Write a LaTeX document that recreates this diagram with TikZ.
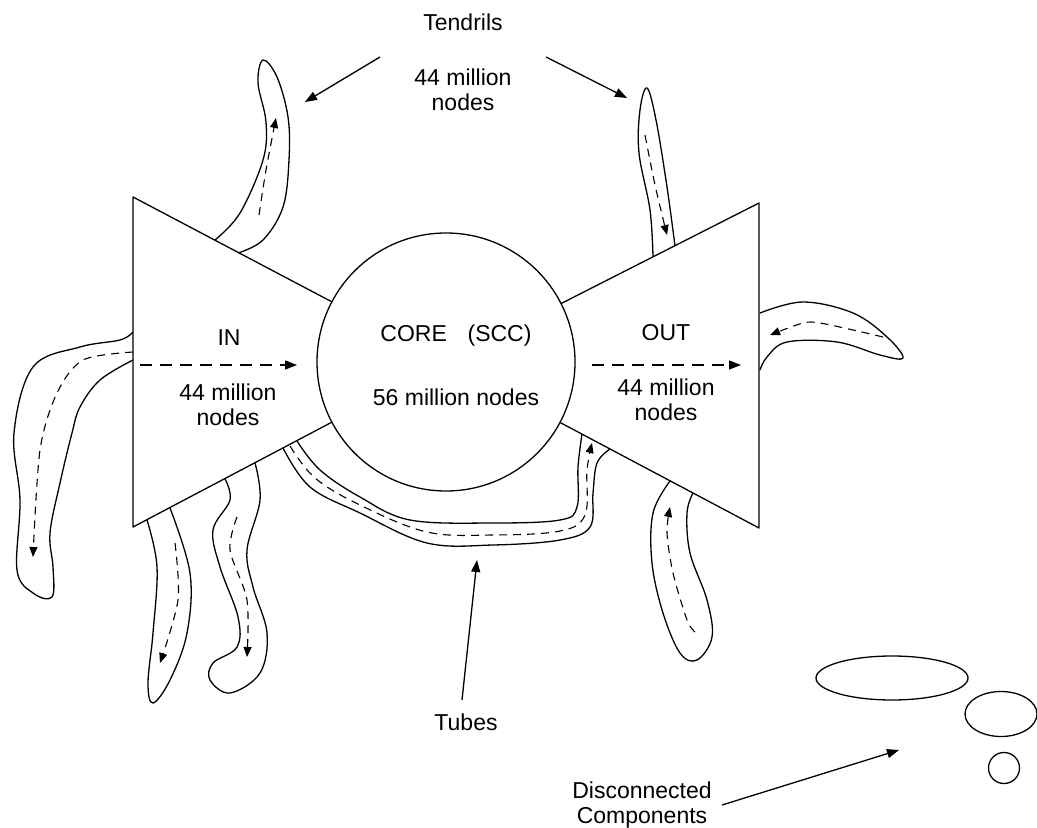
\documentclass[tikz,border=0pt]{standalone}
\usepackage{fontspec}
\setmainfont{Liberation Sans}
\usepackage{tikz}
\usetikzlibrary{arrows.meta, shapes.geometric}
\tikzstyle{lbl} = [font=\fontsize{11.5}{12.5}\selectfont, align=center, inner sep=0pt]
\tikzstyle{arrow} = [-{Triangle[length=6pt,width=4.5pt]}, line width=0.65pt]
\tikzstyle{flow} = [-{Triangle[length=6pt,width=4.5pt]}, line width=0.65pt,
dash pattern=on 6pt off 4pt]
\tikzstyle{tendril} = [line width=0.65pt]
\tikzstyle{tendrilflow} = [-{Triangle[length=5pt,width=4pt]}, line width=0.55pt,
dash pattern=on 4pt off 3pt]
\tikzstyle{component} = [ellipse, draw, line width=0.65pt, inner sep=0pt]

\begin{document}
\begin{tikzpicture}[x=0.5pt, y=-0.5pt, line join=round]
    \useasboundingbox (0,0) rectangle (1037,828);

    % bow tie
    \coordinate (intop) at (133,197);
    \coordinate (inbot) at (133,527);
    \coordinate (outtop) at (759,203);
    \coordinate (outbot) at (759,528);
    \coordinate (mid) at (446,362);
    \draw[tendril] (intop) -- (mid) -- (inbot) -- cycle;
    \draw[tendril] (outtop) -- (mid) -- (outbot) -- cycle;
    \node (core) [circle, draw, fill=white, line width=0.65pt, minimum size=129pt,
    inner sep=0pt] at (mid) {};

    % tendrils
    \draw[tendril] plot[smooth, tension=0.6] coordinates {(215,240) (240,213)
    (263,160) (266,122) (258,83) (263,60) (277,77) (288,117) (289,160) (283,207)
    (263,240) (238,253)};
    \draw[tendrilflow] plot[smooth] coordinates {(259,215) (266,170) (276,118)};

    \draw[tendril] plot[smooth, tension=0.6] coordinates {(653,257) (650,210)
    (639,153) (640,110) (647,88) (656,120) (667,187) (675,246)};
    \draw[tendrilflow] plot[smooth] coordinates {(645,135) (655,185) (667,235)};

    \draw[tendril] plot[smooth, tension=0.6] coordinates {(133,332) (120,340)
    (80,347) (33,367) (14,433) (20,500) (17,570) (33,593) (52,597) (53,567)
    (50,533) (60,483) (72,433) (80,407) (100,380) (133,360)};
    \draw[tendrilflow] plot[smooth] coordinates {(133,352) (83,360) (57,393)
    (40,450) (33,557)};

    \draw[tendril] plot[smooth, tension=0.6] coordinates {(147,520) (157,567)
    (153,633) (148,683) (153,703) (170,680) (187,633) (190,573) (170,508)};
    \draw[tendrilflow] plot[smooth] coordinates {(175,543) (178,600) (160,663)};

    \draw[tendril] plot[smooth, tension=0.6] coordinates {(225,479) (230,500)
    (213,530) (220,567) (238,617) (237,647) (213,663) (210,680) (230,693)
    (260,673) (267,633) (253,587) (247,550) (260,500) (255,463)};
    \draw[tendrilflow] plot[smooth] coordinates {(237,517) (230,550) (247,600)
    (247,657)};

    \draw[tendril] plot[smooth, tension=0.6] coordinates {(760,313) (803,302)
    (853,313) (887,337) (903,358) (880,355) (837,342) (787,342) (767,357)
    (760,370)};
    \draw[tendrilflow] plot[smooth] coordinates {(883,337) (853,330) (820,323)
    (803,323) (770,335)};

    \draw[tendril] plot[smooth, tension=0.6] coordinates {(670,481) (653,513)
    (652,563) (663,613) (680,653) (697,660) (712,637) (707,600) (690,553)
    (687,513) (693,493)};
    \draw[tendrilflow] plot[smooth] coordinates {(695,632) (687,620) (673,573)
    (667,533) (670,507)};

    % tube
    \draw[tendril] plot[smooth, tension=0.6] coordinates {(283,448) (310,487)
    (360,513) (427,543) (493,545) (560,540) (590,527) (593,493) (597,463)
    (610,449)};
    \draw[tendril] plot[smooth, tension=0.6] coordinates {(297,441) (320,470)
    (360,497) (410,520) (493,523) (560,520) (577,507) (578,467) (582,434)};
    \draw[tendrilflow] plot[smooth, tension=0.6] coordinates {(290,446) (315,478)
    (360,505) (427,532) (493,535) (560,531) (585,515) (587,470) (592,443)};

    % labels
    \node (tendrils) [lbl] at (463,22) {Tendrils};
    \node (tendrilsize) [lbl] at (463,90) {44 million\\nodes};
    \node (in) [lbl] at (229,338) {IN};
    \node (insize) [lbl] at (228,405) {44 million\\nodes};
    \node (corename) [lbl] at (456,336) {CORE\hspace{0.9em}(SCC)};
    \node (coresize) [lbl] at (456,397) {56 million nodes};
    \node (out) [lbl] at (666,333) {OUT};
    \node (outsize) [lbl] at (666,400) {44 million\\nodes};
    \node (tubes) [lbl] at (466,722) {Tubes};
    \node (disc) [lbl] at (642,805) {Disconnected\\Components};

    % disconnected components
    \node (comp1) [component, minimum width=76pt, minimum height=22pt] at (892,678) {};
    \node (comp2) [component, minimum width=36pt, minimum height=22.5pt] at (1001,714) {};
    \node (comp3) [component, minimum width=15.5pt, minimum height=15.5pt] at (1004,768) {};

    % pointers
    \coordinate (tlfrom) at (380,57);
    \coordinate (tlto) at (305,102);
    \coordinate (trfrom) at (546,57);
    \coordinate (trto) at (627,98);
    \coordinate (tubefrom) at (462,700);
    \coordinate (tubeto) at (477,560);
    \coordinate (discfrom) at (722,805);
    \coordinate (discto) at (899,750);
    \draw[arrow] (tlfrom) -- (tlto);
    \draw[arrow] (trfrom) -- (trto);
    \draw[arrow] (tubefrom) -- (tubeto);
    \draw[arrow] (discfrom) -- (discto);

    % flow through the bow tie
    \coordinate (inflowfrom) at (140,365);
    \coordinate (inflowto) at (297,365);
    \coordinate (outflowfrom) at (592,365);
    \coordinate (outflowto) at (741,365);
    \draw[flow] (inflowfrom) -- (inflowto);
    \draw[flow] (outflowfrom) -- (outflowto);
\end{tikzpicture}
\end{document}
